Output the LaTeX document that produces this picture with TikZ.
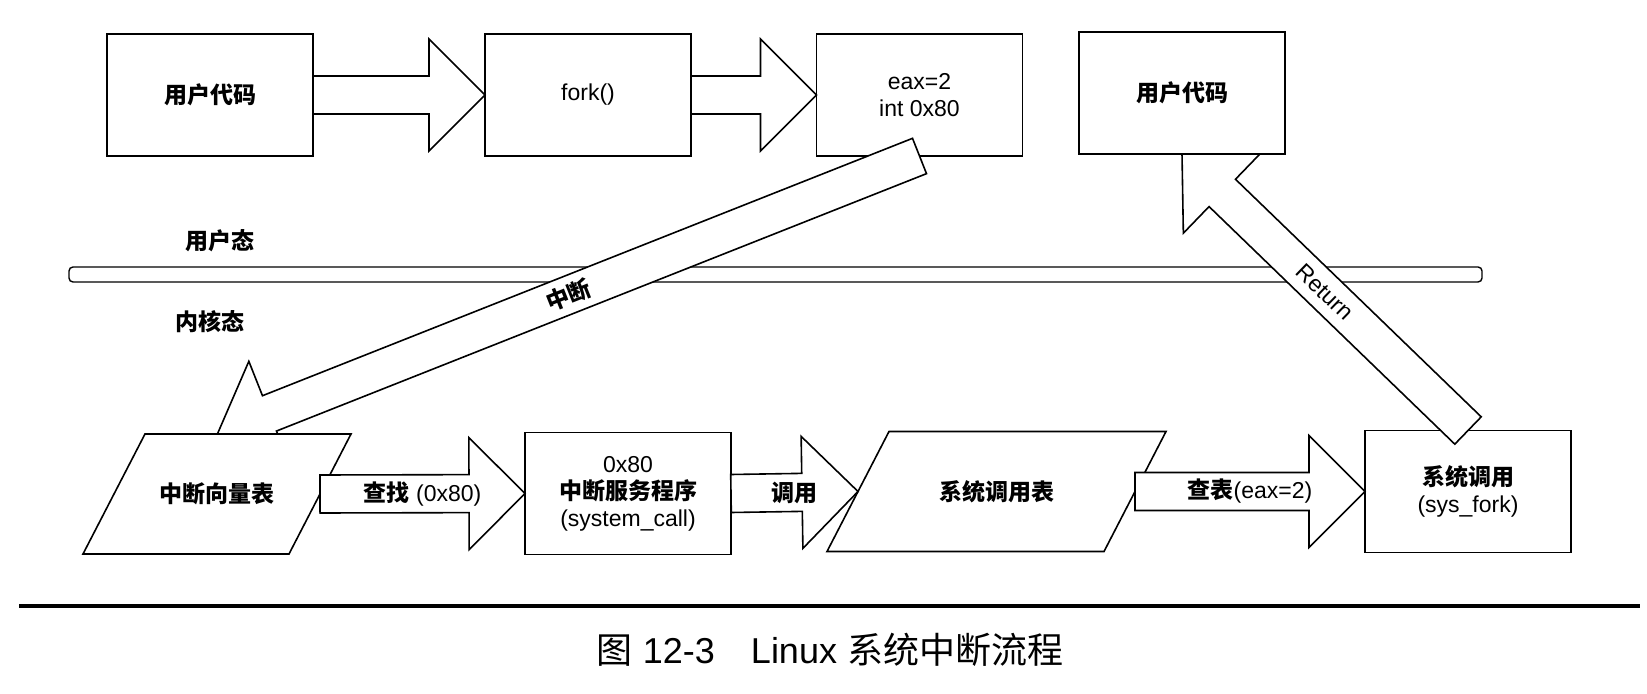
\documentclass[tikz,border=0pt]{standalone}
\usepackage{fontspec}
\setmainfont{Liberation Sans}
\newfontfamily\cjk{Noto Sans CJK SC}
\usetikzlibrary{calc}
\newcommand{\zh}[1]{{\cjk\bfseries #1}}
\newcommand{\shaftw}{9.5pt}
\newcommand{\headw}{28pt}
\newcommand{\headlen}{28pt}
% hollow block arrow from #2 to #3 with label #4
\newcommand{\bigarrow}[4][]{%
  \coordinate (hb) at ($(#3)!\headlen!(#2)$);
  \draw[fill=white] ($(#2)!\shaftw!90:(#3)$) -- ($(hb)!\shaftw!90:(#3)$)
    -- ($(hb)!\headw!90:(#3)$) -- (#3) -- ($(hb)!\headw!-90:(#3)$)
    -- ($(hb)!\shaftw!-90:(#3)$) -- ($(#2)!\shaftw!-90:(#3)$) -- cycle;
  \path (#2) -- (#3) node[midway,#1] {#4};
}
% slanted table: name, x, y, half width, text
\newcommand{\slantbox}[5]{%
  \draw[fill=white] (#2-#4-31,#3+60) -- (#2-#4+31,#3-60) -- (#2+#4+31,#3-60)
    -- (#2+#4-31,#3+60) -- cycle;
  \node[tablebox,minimum width=#4pt] (#1) at (#2,#3) {#5};
}
\tikzset{
  procbox/.style={draw,fill=white,minimum width=103pt,minimum height=61pt,
    inner sep=0pt,outer sep=0pt,align=center},
  tablebox/.style={minimum height=60pt,inner sep=0pt,outer sep=0pt}
}

\begin{document}
\begin{tikzpicture}[x=0.5pt,y=-0.5pt,line width=0.8pt,
    font=\fontsize{11.5pt}{13.5pt}\selectfont]
  \fill[white] (0,0) rectangle (1647,694);
  \useasboundingbox (0,0) rectangle (1647,694);
  % user / kernel boundary
  \draw[line width=0.7pt,fill=white,rounded corners=2pt] (69,267) rectangle (1482,282);
  \node at (220,241) {\zh{用户态}};
  \node at (210,322) {\zh{内核态}};
  % top row
  \node[procbox] (uc1) at (210,95) {\zh{用户代码}};
  \node[procbox] (fk) at (588,95) {fork()};
  \node[procbox] (ec) at (919.5,95) {eax=2\\int 0x80};
  \node[procbox] (isr) at (628,493.5) {0x80\\\zh{中断服务程序}\\(system\_call)};
  \slantbox{st}{996.5}{491.5}{138.5}{\zh{系统调用表}}
  \node[procbox] (sf) at (1468,491.5) {\zh{系统调用}\\(sys\_fork)};
  % diagonal arrows pass under their target
  \coordinate (vtin) at (217.4,434);
  \coordinate (ucin) at (1182,154);
  \bigarrow[sloped]{ec.south}{vtin}{\zh{中断}}
  \bigarrow[sloped]{sf.north}{ucin}{Return}
  \slantbox{vt}{217}{494}{103}{\zh{中断向量表}}
  \node[procbox] (uc2) at (1182,93) {\zh{用户代码}};
  \bigarrow{uc1.east}{fk.west}{}
  \bigarrow{fk.east}{ec.west}{}
  \bigarrow{vt.east}{isr.west}{\zh{查找} (0x80)}
  \bigarrow{isr.east}{st.west}{\zh{调用}}
  \bigarrow{st.east}{sf.west}{\zh{查表}(eax=2)}
  % caption
  \draw[line width=1.6pt] (19,606) -- (1640,606);
  \node[font=\fontsize{18pt}{20pt}\selectfont] (cap) at (830,650)
    {{\cjk 图} 12-3\quad Linux {\cjk 系统中断流程}};
\end{tikzpicture}
\end{document}
